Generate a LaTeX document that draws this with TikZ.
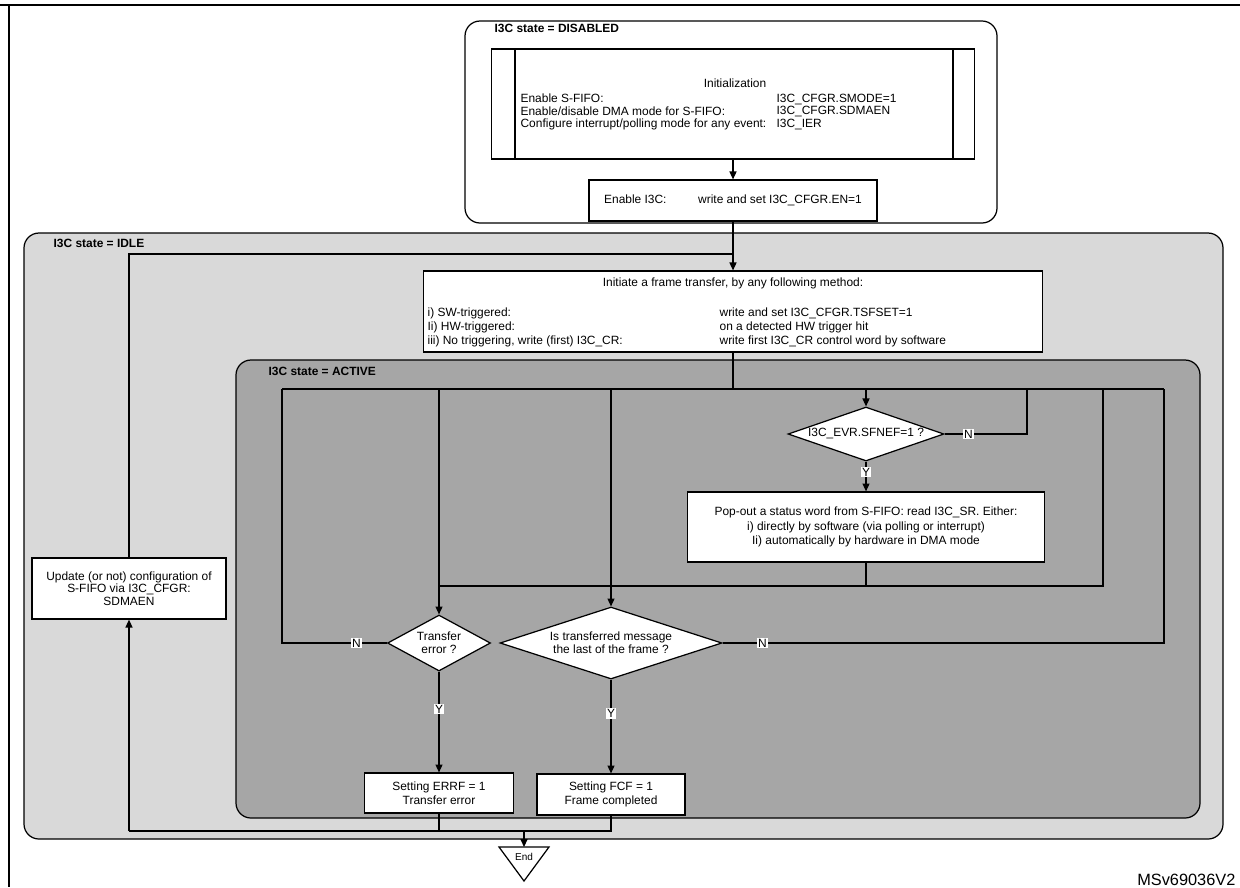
\documentclass[tikz,border=0pt]{standalone}
\usepackage{fontspec}
\setmainfont{Liberation Sans}
\usetikzlibrary{arrows.meta,shapes.geometric}

\begin{document}
\begin{tikzpicture}[x=0.02cm,y=-0.02cm,line width=0.7pt,
  font=\fontsize{6.8}{7.1}\selectfont,
  >={Triangle[length=4.5pt,width=4pt]},
  box/.style={draw,fill=white,inner sep=0pt},
  decision/.style={draw,fill=white,diamond,inner sep=0pt,align=center},
  state/.style={draw,rounded corners=0.3cm},
  yn/.style={fill=white,inner sep=0.6pt},
  title/.style={anchor=west,inner sep=0pt,font=\fontsize{6.8}{7.1}\selectfont\bfseries},
  col/.style={anchor=north west,inner sep=0pt,align=left}]
\useasboundingbox (0,0) rectangle (1240,887);
\draw[line width=1.2pt] (0,5) -- (1240,5) (9,5) -- (9,887);
\draw[state,fill=white] (465,21) rectangle (997,223);
\draw[state,fill=black!15] (24,233) rectangle (1223,839);
\draw[state,fill=black!35] (236,360) rectangle (1200,818);
\node[title] (tdis) at (494,28) {I3C state = DISABLED};
\node[title] (tidle) at (53,243) {I3C state = IDLE};
\node[title] (tact) at (268,371) {I3C state = ACTIVE};

\node[box,minimum width=9.66cm,minimum height=2.2cm] (init) at (733,104) {};
\draw ([xshift=0.48cm]init.north west) -- ([xshift=0.48cm]init.south west)
([xshift=-0.44cm]init.north east) -- ([xshift=-0.44cm]init.south east);
\node (initt) at (735,83) {Initialization};
\node[col] (initl) at (520,93.5) {Enable S-FIFO:\\Enable/disable DMA mode for S-FIFO:\\Configure interrupt/polling mode for any event:};
\node[col] (initr) at (776,93.5) {I3C\_CFGR.SMODE=1\\I3C\_CFGR.SDMAEN\\I3C\_IER};
\node[box,minimum width=5.76cm,minimum height=0.82cm] (en) at (733,200.5) {Enable I3C:\hspace{18pt}write and set I3C\_CFGR.EN=1};

\node[box,minimum width=12.38cm,minimum height=1.62cm] (ft) at (733,311.5) {};
\node (ftt) at (733,283) {Initiate a frame transfer, by any following method:};
\node[col,font=\fontsize{6.8}{8}\selectfont] (ftl) at (427,307.5) {i) SW-triggered:\\Ii) HW-triggered:\\iii) No triggering, write (first) I3C\_CR:};
\node[col,font=\fontsize{6.8}{8}\selectfont] (ftr) at (719,307.5) {write and set I3C\_CFGR.TSFSET=1\\on a detected HW trigger hit\\write first I3C\_CR control word by software};

\node[box,align=center,minimum width=3.88cm,minimum height=1.22cm] (upd) at (129,588.5) {Update (or not) configuration of\\S-FIFO via I3C\_CFGR:\\SDMAEN};
\node[decision,aspect=2.9,minimum width=3.12cm,minimum height=1.08cm] (sf) at (866,434) {I3C\_EVR.SFNEF=1 ?};
\node[box,align=center,minimum width=7.14cm,minimum height=1.4cm,font=\fontsize{6.8}{8.2}\selectfont] (pop) at (866,527) {Pop-out a status word from S-FIFO: read I3C\_SR. Either:\\i) directly by software (via polling or interrupt)\\Ii) automatically by hardware in DMA mode};
\node[decision,aspect=2,minimum width=2.06cm,minimum height=1.12cm,font=\fontsize{6.8}{7.4}\selectfont] (te) at (439,643) {Transfer\\error ?};
\node[decision,aspect=3,minimum width=4.44cm,minimum height=1.44cm,font=\fontsize{6.8}{7.4}\selectfont] (it) at (611,643) {Is transferred message\\the last of the frame ?};
\node[box,align=center,minimum width=2.98cm,minimum height=0.8cm,font=\fontsize{6.8}{8}\selectfont] (errf) at (439,793) {Setting ERRF = 1\\Transfer error};
\node[box,align=center,minimum width=2.96cm,minimum height=0.82cm,font=\fontsize{6.8}{8}\selectfont] (fcf) at (611,794.5) {Setting FCF = 1\\Frame completed};
\draw (499,847) -- (549,847) -- (524,881) -- cycle;
\node[font=\fontsize{5.7}{6}\selectfont] (end) at (524,857) {End};
\node[anchor=base east,inner sep=0pt,font=\fontsize{9.3}{10}\selectfont] (ref) at (1236,885) {MSv69036V2};

\coordinate (j0) at (733,254);
\coordinate (tl) at (282,389);
\coordinate (tr) at (1164,389);
\coordinate (sfn) at (1027,389);
\coordinate (bl) at (439,586);
\coordinate (br) at (1103,586);
\coordinate (brt) at (1103,389);
\coordinate (rl) at (129,831);
\coordinate (rj) at (524,831);
\coordinate (endt) at (524,847);

\draw[->] (init) -- (en);
\draw[->] (en) -- (ft);
\draw (upd) |- (j0);
\draw (ft) -- (ft.south |- tl);
\draw (tl) -- (tr);
\draw[->] (te.north |- tl) -- (te);
\draw[->] (it.north |- tl) -- (it);
\draw[->] (sf.north |- tl) -- (sf);
\draw (sf.east) -- node[yn,pos=0.29] (nsf) {N} (sf.east -| sfn) -- (sfn);
\draw[->] (sf) -- node[yn,pos=0.35] (ysf) {Y} (pop);
\draw (pop) -- (pop.south |- bl);
\draw (bl) -- (br) -- (brt);
\draw (te.west) -- node[yn,pos=0.29] (nte) {N} (te.west -| tl) -- (tl);
\draw (it.east) -- node[yn,pos=0.09] (nit) {N} (it.east -| tr) -- (tr);
\draw[->] (te) -- node[yn,pos=0.37] (yte) {Y} (errf);
\draw[->] (it) -- node[yn,pos=0.36] (yit) {Y} (fcf);
\draw (errf) -- (errf.south |- rl);
\draw (fcf) -- (fcf.south |- rl) -- (rl);
\draw[->] (rl) -- (upd);
\draw[->] (rj) -- (endt);
\end{tikzpicture}
\end{document}
